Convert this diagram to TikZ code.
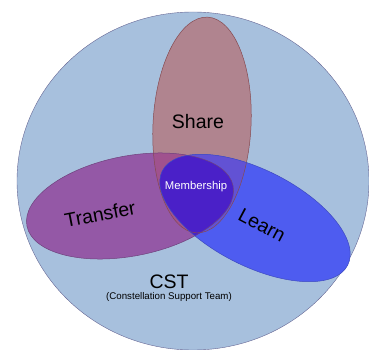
\documentclass[tikz,border=0pt]{standalone}
\usepackage{fontspec}
\setmainfont{Liberation Sans}
\usetikzlibrary{positioning}
\definecolor{team blue}{RGB}{167,192,221}
\definecolor{share rose}{RGB}{176,132,143}
\definecolor{transfer violet}{RGB}{148,88,166}
\definecolor{learn blue}{RGB}{78,92,240}
\definecolor{member indigo}{RGB}{74,32,200}
\definecolor{share learn}{RGB}{98,82,212}
\definecolor{share transfer}{RGB}{160,82,142}
\tikzset{
    % Sets
    team set/.style={fill=team blue,draw=black!70!blue!60,thin},
    share set/.style={rotate around={-3:(202,125)}},
    transfer set/.style={rotate around={11:(130,206)}},
    learn set/.style={rotate around={-27:(255,218)}},
    set edge/.style={draw=#1,line width=.5pt},
    %
    % Labels
    big label/.style={font=\fontsize{19.5}{20}\selectfont},
    small label/.style={font=\fontsize{9.7}{10}\selectfont}
}

\begin{document}
\begin{tikzpicture}[x=1pt,y=-1pt]
    \useasboundingbox (0,0) rectangle (369,350);
    \clip (0,0) rectangle (369,350);
    \draw[team set] (193,181) ellipse [x radius=176, y radius=169];
    % plain sets
    \fill[share rose,share set] (202,125) ellipse [x radius=49, y radius=108];
    \fill[transfer violet,transfer set] (130,206) ellipse [x radius=105, y radius=50];
    \fill[learn blue,learn set] (255,218) ellipse [x radius=104, y radius=48];
    % overlaps
    \begin{scope}
        \clip[share set] (202,125) ellipse [x radius=49, y radius=108];
        \fill[share transfer,transfer set] (130,206) ellipse [x radius=105, y radius=50];
        \fill[share learn,learn set] (255,218) ellipse [x radius=104, y radius=48];
    \end{scope}
    \begin{scope}
        \clip[transfer set] (130,206) ellipse [x radius=105, y radius=50];
        \fill[member indigo,learn set] (255,218) ellipse [x radius=104, y radius=48];
    \end{scope}
    % edges
    \draw[set edge=share rose!80!red!70!black,share set] (202,125) ellipse [x radius=49, y radius=108];
    \draw[set edge=transfer violet!75!black,transfer set] (130,206) ellipse [x radius=105, y radius=50];
    \draw[set edge=learn blue!80!black,learn set] (255,218) ellipse [x radius=104, y radius=48];
    % labels
    \node[big label] (share) at (198,122) {Share};
    \node[big label,rotate=11] (transfer) at (100,214) {Transfer};
    \node[big label,rotate=-28] (learn) at (262,225) {Learn};
    \node[font=\fontsize{11.3}{12}\selectfont,text=white] (membership) at (196,187) {Membership};
    \node[big label] (cst) at (169,282) {CST};
    \node[small label,below=-4pt of cst] (cst name) {(Constellation Support Team)};
\end{tikzpicture}
\end{document}
